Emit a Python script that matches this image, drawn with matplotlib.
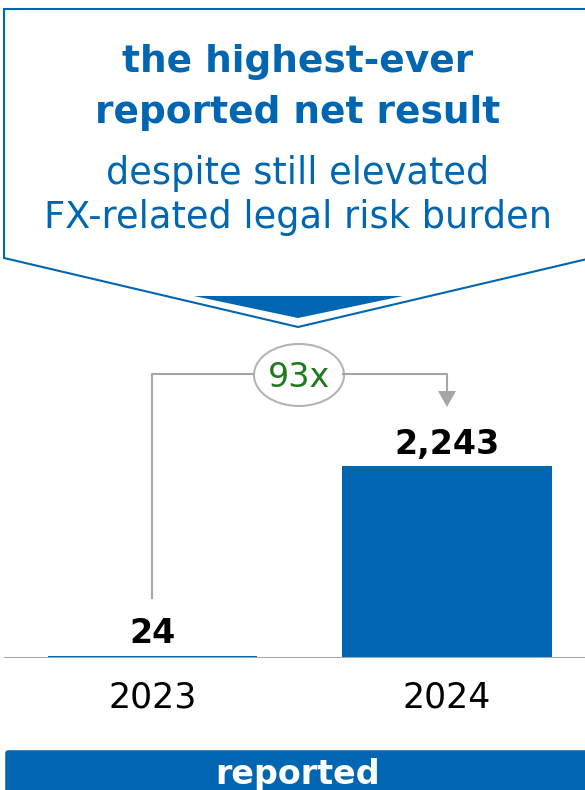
import matplotlib
matplotlib.use("Agg")
import matplotlib.pyplot as plt
from matplotlib.patches import Polygon, Ellipse, Rectangle

# net result values
years = ["2023", "2024"]
netResult = [24, 2243]
valueLabels = ["24", "2,243"]
growthLabel = "93x"

titleLines = ["the highest-ever", "reported net result"]
subLines = ["despite still elevated", "FX-related legal risk burden"]
bannerText = "reported"

blue = "#0066b2"
grey = "#a6a6a6"
green = "#1e7a1e"

plt.rcParams['font.family'] = ['DejaVu Sans']

W, H = 585, 790
fig = plt.figure(figsize=(W/100, H/100), dpi=100)

# overlay axes in pixel units (y down) for callout and labels
ov = fig.add_axes([0, 0, 1, 1])
ov.set_xlim(0, W)
ov.set_ylim(H, 0)
ov.axis('off')

# callout box with pointer
box = Polygon([[600, 9], [4, 9], [4, 258], [298, 327], [600, 256]],
              closed=False, fill=False, edgecolor=blue, linewidth=1.5)
ov.add_patch(box)
ov.add_patch(Polygon([[194, 296], [403, 296], [298, 318]], closed=True,
                     facecolor=blue, edgecolor='none'))

ov.text(298, 72, titleLines[0], ha='center', va='baseline', fontsize=27,
        fontweight='bold', color=blue)
ov.text(298, 123, titleLines[1], ha='center', va='baseline', fontsize=27,
        fontweight='bold', color=blue)
ov.text(298, 184, subLines[0], ha='center', va='baseline', fontsize=26.5,
        color=blue)
ov.text(298, 228, subLines[1], ha='center', va='baseline', fontsize=26.5,
        color=blue)

# bar axes
barAx = fig.add_axes([0, (H - 658)/H, 1, 320/H])
barAx.set_zorder(ov.get_zorder() - 1)
barAx.bar([0, 1], netResult, width=0.71, color=blue)
barAx.set_xlim(-152.5/294.5, (W - 152.5)/294.5)
barAx.set_ylim(0, 2243*320/192)
barAx.axis('off')
barAx.axhline(0, xmin=5/W, xmax=1, color=grey, linewidth=1.5)
for i in range(len(netResult)):
    barAx.annotate(valueLabels[i], (i, netResult[i]), xytext=(0, 9),
                   textcoords='offset points', ha='center', va='baseline',
                   fontsize=24, fontweight='bold', color='black')
    barAx.annotate(years[i], (i, 0), xytext=(0, -36), textcoords='offset points',
                   ha='center', va='baseline', fontsize=25, color='black')

# growth connector
ov.plot([152, 152, 253], [598, 374, 374], color=grey, linewidth=1.5)
ov.plot([343, 447, 447], [374, 374, 392], color=grey, linewidth=1.5)
ov.add_patch(Polygon([[438, 391], [456, 391], [447, 407]], closed=True,
                     facecolor=grey, edgecolor='none'))
ov.add_patch(Ellipse((299, 375), 90, 62, facecolor='white', edgecolor='#b4b4b4',
                     linewidth=1.5))
ov.text(299, 387, growthLabel, ha='center', va='baseline', fontsize=24,
        color=green)

# bottom banner, rounded via a thick round-joined edge
ov.add_patch(Rectangle((8, 753), 600, 50, facecolor=blue, edgecolor=blue,
                       linewidth=4, joinstyle='round'))
ov.text(298, 784, bannerText, ha='center', va='baseline', fontsize=24,
        fontweight='bold', color='white')

fig.savefig("out.png", dpi=100)
